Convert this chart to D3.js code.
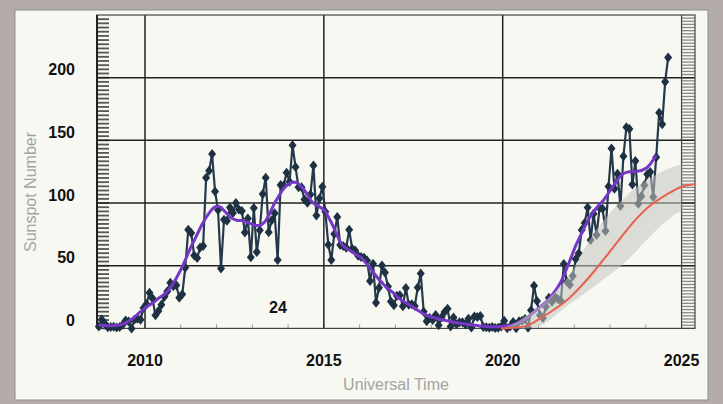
<!DOCTYPE html>
<html>
<head>
<meta charset="utf-8">
<script src="https://cdnjs.cloudflare.com/ajax/libs/d3/7.8.5/d3.min.js"></script>
<style>
body{margin:0;background:#b2aca7;}
svg{display:block;}
</style>
</head>
<body>
<div id="chart"></div>
<script>
// monthly sunspot number, Sep 2008 .. Aug 2024
var firstYear = 2008, firstMonth = 9;
var monthly = [
  1.5, 7.0, 4.0, 1.0,
  1.2, 1.3, 0.7, 1.2, 2.9, 6.3, 5.5, 0.0, 7.1, 7.7, 6.9, 16.3,
  19.5, 28.5, 24.0, 10.4, 13.9, 18.8, 25.2, 29.6, 36.4, 33.6, 34.4, 24.5,
  27.3, 48.3, 78.6, 76.1, 58.2, 56.1, 64.5, 65.8, 120.1, 125.7, 139.1, 109.3,
  94.4, 47.8, 86.6, 85.9, 96.5, 92.0, 100.1, 94.8, 93.7, 76.5, 87.6, 56.8,
  96.1, 60.9, 78.3, 107.3, 120.2, 76.7, 86.2, 91.8, 54.5, 114.4, 113.9, 124.2,
  117.0, 146.1, 128.7, 112.5, 112.5, 102.9, 100.2, 106.9, 130.0, 90.0, 103.6, 112.9,
  93.0, 66.7, 54.5, 75.3, 88.8, 66.5, 65.8, 64.4, 78.6, 63.6, 62.2, 58.0,
  57.0, 56.4, 54.1, 37.9, 51.5, 20.5, 32.4, 50.2, 44.6, 33.4, 21.4, 18.5,
  26.1, 26.4, 17.7, 32.3, 18.9, 19.2, 17.8, 32.6, 43.7, 13.2, 5.7, 8.2,
  6.8, 10.7, 2.5, 8.9, 13.1, 15.6, 1.6, 8.7, 3.3, 4.9, 4.9, 3.1,
  7.7, 0.8, 9.4, 9.1, 9.9, 1.2, 0.9, 0.5, 1.1, 0.4, 0.5, 1.5,
  6.2, 0.2, 1.5, 5.2, 0.2, 5.8, 6.1, 7.5, 0.6, 14.4, 34.0, 21.8,
  10.4, 8.2, 17.2, 24.5, 21.2, 25.0, 23.4, 21.8, 51.3, 37.4, 34.8, 41.7,
  55.3, 59.9, 78.5, 84.1, 96.5, 70.5, 91.4, 74.6, 96.0, 95.5, 77.6, 113.1,
  143.6, 111.3, 123.3, 97.6, 137.4, 160.5, 159.1, 114.8, 133.6, 99.4, 105.4, 114.2,
  123.0, 124.7, 104.9, 136.5, 172.1, 162.8, 196.8, 216.0
];

// smoothed sunspot number, Sep 2008 .. Apr 2024
var smoothed = [
  3.0, 2.7, 2.4, 2.2,
  2.2, 2.3, 2.5, 2.8, 3.4, 4.4, 5.8, 7.3, 9.0, 11.2, 13.3, 15.2,
  17.0, 18.6, 20.2, 22.0, 24.0, 25.6, 27.2, 29.5, 32.5, 36.0, 40.0, 44.5,
  49.0, 54.5, 60.0, 65.5, 70.0, 75.0, 80.0, 84.5, 88.5, 92.0, 95.0, 97.0,
  97.5, 96.5, 94.0, 91.5, 89.0, 87.5, 86.5, 86.0, 86.0, 85.5, 84.5, 83.5,
  82.5, 82.0, 82.0, 83.5, 86.0, 90.0, 95.0, 100.0, 104.0, 108.0, 111.5, 114.0,
  115.5, 116.5, 116.5, 115.0, 113.0, 110.0, 106.5, 102.5, 100.0, 98.5, 97.0, 95.5,
  93.5, 89.0, 84.5, 79.5, 74.0, 69.0, 66.0, 64.0, 62.5, 61.0, 59.5, 58.0,
  56.5, 54.0, 51.0, 48.0, 45.0, 42.0, 39.0, 36.5, 34.0, 32.0, 30.0, 28.0,
  25.5, 23.5, 22.0, 20.5, 19.0, 17.5, 16.0, 14.5, 13.0, 11.5, 10.5, 9.5,
  8.8, 8.2, 7.6, 7.0, 6.5, 6.0, 5.5, 5.0, 4.5, 4.1, 3.8, 3.5,
  3.2, 2.9, 2.6, 2.3, 2.0, 1.8, 1.6, 1.4, 1.3, 1.3, 1.4, 1.6,
  1.9, 2.2, 2.5, 3.0, 3.6, 4.5, 5.8, 7.3, 9.0, 11.0, 13.0, 15.0,
  17.0, 19.0, 21.0, 23.5, 26.5, 29.5, 33.0, 37.0, 42.0, 48.0, 54.0, 60.0,
  66.0, 71.0, 76.0, 81.0, 85.5, 89.5, 93.0, 96.0, 99.0, 101.5, 104.5, 108.0,
  111.5, 115.0, 118.5, 121.5, 123.5, 124.5, 125.0, 125.0, 125.0, 125.5, 126.0, 127.0,
  128.5, 131.0, 134.5, 138.0
];

// predicted cycle 25 (red) and its range (grey band)
var predYears  = [2019.95, 2020.3, 2020.67, 2021.05, 2021.42, 2021.8, 2022.17, 2022.54, 2022.92, 2023.29, 2023.66, 2024.04, 2024.6, 2025.0, 2025.376];
var predValues = [0, 0.5, 2, 8, 14.7, 22.6, 33, 45, 58.5, 72, 85, 96, 107, 113, 115];
var bandYears = [2020.0, 2020.25, 2020.5, 2020.75, 2021.0, 2021.25, 2021.5, 2021.75, 2022.0, 2022.25, 2022.5, 2022.75, 2023.0, 2023.25, 2023.5, 2023.75, 2024.0, 2024.25, 2024.5, 2024.75, 2025.0];
var bandLow   = [0, 0, 0, 0, 1, 5, 11, 17, 22, 27, 32, 38, 43, 48, 55, 62, 70, 77, 84, 90, 94];
var bandHigh  = [0, 3, 7, 12, 17, 23, 30, 38, 48, 62, 74, 84, 92, 100, 107, 113, 118, 122, 126, 129, 131];

var yearLabels = [2010, 2015, 2020, 2025];
var valueLabels = [0, 50, 100, 150, 200];
var gridValues = [50, 100, 150, 200];
var gridYears = [2010, 2015, 2020];

var width = 723, height = 404;
var svg = d3.select("#chart").append("svg")
  .attr("width", width)
  .attr("height", height);

// outer grey and the light panel
svg.append("rect").attr("width", width).attr("height", height).attr("fill", "#b4aca8");
svg.append("rect")
  .attr("x", 15).attr("y", 10).attr("width", 693).attr("height", 390)
  .attr("fill", "#f8f8f3").attr("stroke", "#8f8d89");

var x = d3.scaleLinear().domain([2008.658, 2025.376]).range([97, 695]);
var y = d3.scaleLinear().domain([0, 250]).range([328.4, 15]);

function monthTime(i){
  return firstYear + (firstMonth - 1 + i + 0.5) / 12;
}
var monthlyPts = monthly.map(function(v, i){ return {t: monthTime(i), v: v}; });
var smoothPts = smoothed.map(function(v, i){ return {t: monthTime(i), v: v}; });

// minor ticks on left and right
svg.append("g").selectAll("line")
  .data(d3.range(0, 250, 250 / 75))
  .enter().append("line")
  .attr("x1", 97).attr("x2", 109)
  .attr("y1", function(d){ return y(d); })
  .attr("y2", function(d){ return y(d); })
  .attr("stroke", "#555").attr("stroke-width", 1.8);

svg.append("g").selectAll("line")
  .data(d3.range(0, 250, 2.5))
  .enter().append("line")
  .attr("x1", x(2025)).attr("x2", 695)
  .attr("y1", function(d){ return y(d); })
  .attr("y2", function(d){ return y(d); })
  .attr("stroke", "#888").attr("stroke-width", 1.3);

// year ticks along the bottom
svg.append("g").selectAll("line")
  .data(x.ticks(17))
  .enter().append("line")
  .attr("x1", function(d){ return x(d); })
  .attr("x2", function(d){ return x(d); })
  .attr("y1", y(0)).attr("y2", y(0) - 4)
  .attr("stroke", "#999").attr("stroke-width", 1);

// grid
svg.append("g").selectAll("line")
  .data(gridValues)
  .enter().append("line")
  .attr("x1", 97).attr("x2", 695)
  .attr("y1", function(d){ return y(d); })
  .attr("y2", function(d){ return y(d); })
  .attr("stroke", "#222").attr("stroke-width", 1.5);

svg.append("g").selectAll("line")
  .data(gridYears)
  .enter().append("line")
  .attr("x1", function(d){ return x(d); })
  .attr("x2", function(d){ return x(d); })
  .attr("y1", y(250)).attr("y2", y(0))
  .attr("stroke", "#222").attr("stroke-width", 1.5);

// frame
svg.append("rect")
  .attr("x", 97).attr("y", y(250))
  .attr("width", 695 - 97).attr("height", y(0) - y(250))
  .attr("fill", "none").attr("stroke", "#444").attr("stroke-width", 1.2);
svg.append("line")
  .attr("x1", 97).attr("x2", 97)
  .attr("y1", y(250)).attr("y2", y(0))
  .attr("stroke", "#222").attr("stroke-width", 2);
svg.append("line")
  .attr("x1", x(2025)).attr("x2", x(2025))
  .attr("y1", y(250)).attr("y2", y(0))
  .attr("stroke", "#444").attr("stroke-width", 1.2);

// monthly values
var line = d3.line()
  .x(function(d){ return x(d.t); })
  .y(function(d){ return y(d.v); });

svg.append("path")
  .datum(monthlyPts)
  .attr("d", line)
  .attr("fill", "none")
  .attr("stroke", "#26394a")
  .attr("stroke-width", 2.2);

svg.append("g").selectAll("path")
  .data(monthlyPts)
  .enter().append("path")
  .attr("d", "M0,-5L4,0L0,5L-4,0Z")
  .attr("transform", function(d){ return "translate(" + x(d.t) + "," + y(d.v) + ")"; })
  .attr("fill", "#1d3142");

// smoothed
svg.append("path")
  .datum(smoothPts)
  .attr("d", line.curve(d3.curveMonotoneX))
  .attr("fill", "none")
  .attr("stroke", "#7537c6")
  .attr("stroke-width", 3);

// predicted range
var band = bandYears.map(function(t, i){ return {t: t, lo: bandLow[i], hi: bandHigh[i]}; });
svg.append("path")
  .datum(band)
  .attr("d", d3.area()
    .x(function(d){ return x(d.t); })
    .y0(function(d){ return y(d.lo); })
    .y1(function(d){ return y(d.hi); })
    .curve(d3.curveBasis))
  .attr("fill", "#c4c4c0")
  .attr("fill-opacity", 0.55);

// predicted curve
var pred = predYears.map(function(t, i){ return {t: t, v: predValues[i]}; });
svg.append("path")
  .datum(pred)
  .attr("d", d3.line()
    .x(function(d){ return x(d.t); })
    .y(function(d){ return y(d.v); })
    .curve(d3.curveMonotoneX))
  .attr("fill", "none")
  .attr("stroke", "#e8604e")
  .attr("stroke-width", 2);

// labels
svg.append("g").selectAll("text")
  .data(valueLabels)
  .enter().append("text")
  .attr("x", 75)
  .attr("y", function(d){ return y(d) - 2.5; })
  .attr("text-anchor", "end")
  .attr("font-family", "Liberation Sans, Arial, sans-serif")
  .attr("font-weight", "bold")
  .attr("font-size", 16)
  .attr("fill", "#111")
  .text(function(d){ return d; });

svg.append("g").selectAll("text")
  .data(yearLabels)
  .enter().append("text")
  .attr("x", function(d){ return x(d); })
  .attr("y", 366)
  .attr("text-anchor", "middle")
  .attr("font-family", "Liberation Sans, Arial, sans-serif")
  .attr("font-weight", "bold")
  .attr("font-size", 16)
  .attr("fill", "#111")
  .text(function(d){ return d; });

svg.append("text")
  .attr("x", 278).attr("y", 313)
  .attr("text-anchor", "middle")
  .attr("font-family", "Liberation Sans, Arial, sans-serif")
  .attr("font-weight", "bold")
  .attr("font-size", 16)
  .attr("fill", "#111")
  .text("24");

svg.append("text")
  .attr("transform", "translate(36,192) rotate(-90)")
  .attr("text-anchor", "middle")
  .attr("font-family", "Liberation Sans, Arial, sans-serif")
  .attr("font-size", 16)
  .attr("fill", "#a3a3a0")
  .text("Sunspot Number");

svg.append("text")
  .attr("x", 396).attr("y", 390)
  .attr("text-anchor", "middle")
  .attr("font-family", "Liberation Sans, Arial, sans-serif")
  .attr("font-size", 16)
  .attr("fill", "#a3a3a0")
  .text("Universal Time");
</script>
</body>
</html>
